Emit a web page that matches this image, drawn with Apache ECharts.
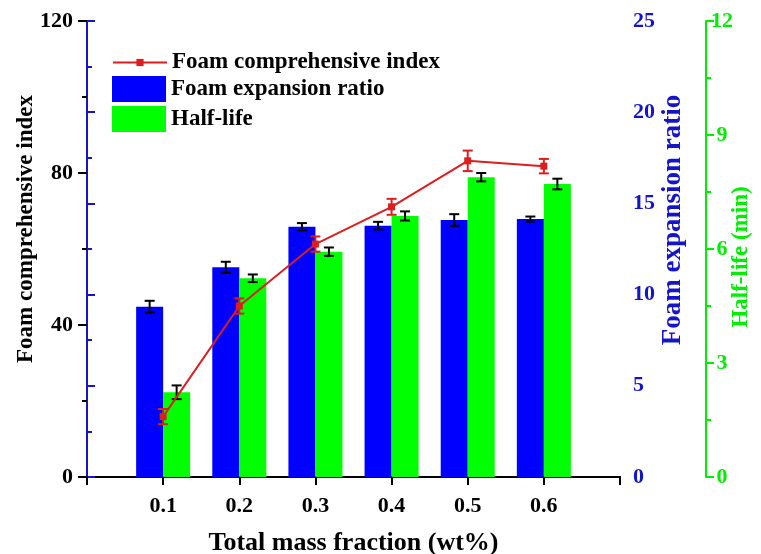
<!DOCTYPE html>
<html>
<head>
<meta charset="utf-8">
<script src="https://cdn.jsdelivr.net/npm/echarts@6/dist/echarts.min.js"></script>
<style>
  html, body { margin: 0; padding: 0; background: #fff; }
  #chart { width: 761px; height: 554px; }
</style>
</head>
<body>
<div id="chart"></div>
<script>
// Foam performance versus total mass fraction
const massFraction = [0.1, 0.2, 0.3, 0.4, 0.5, 0.6];
const comprehensiveIndex = [15.9, 45.0, 61.3, 71.1, 83.2, 81.8];
const comprehensiveErr = [2.0, 2.0, 2.0, 2.1, 2.7, 1.9];
const expansionRatio = [9.34, 11.5, 13.72, 13.78, 14.09, 14.14];
const expansionErr = [0.32, 0.3, 0.2, 0.21, 0.32, 0.14];
const halfLife = [2.23, 5.23, 5.93, 6.87, 7.89, 7.71];
const halfLifeErr = [0.18, 0.1, 0.11, 0.12, 0.11, 0.14];

const FONT = '"Liberation Serif", "Times New Roman", serif';
const RED = '#DD1E1E';
const BLUE = '#0000FF';
const GREEN = '#00FF00';
const AXIS_BLUE = '#1414C8';
const AXIS_GREEN = '#00EE00';
const BAR_W = 27;

const pairs = (vals) => massFraction.map((x, i) => [x, vals[i]]);
const ranges = (vals, errs) => massFraction.map((x, i) => [x, vals[i] - errs[i], vals[i] + errs[i]]);

// Vertical error bar with end caps, shifted sideways by xOff pixels
function errorBar(xOff, color) {
  return function (params, api) {
    const x = api.value(0);
    const top = api.coord([x, api.value(2)]);
    const bot = api.coord([x, api.value(1)]);
    const cx = top[0] + xOff;
    const hw = 5;
    const st = { stroke: color, lineWidth: 2 };
    return {
      type: 'group',
      children: [
        { type: 'line', shape: { x1: cx, y1: top[1], x2: cx, y2: bot[1] }, style: st },
        { type: 'line', shape: { x1: cx - hw, y1: top[1], x2: cx + hw, y2: top[1] }, style: st },
        { type: 'line', shape: { x1: cx - hw, y1: bot[1], x2: cx + hw, y2: bot[1] }, style: st }
      ]
    };
  };
}

const labelStyle = (color) => ({ fontFamily: FONT, fontWeight: 'bold', fontSize: 22, color: color });
const nameStyle = (color, size) => ({ fontFamily: FONT, fontWeight: 'bold', fontSize: size, color: color });
const legendText = { fontFamily: FONT, fontWeight: 'bold', fontSize: 23, color: '#000' };

const chart = echarts.init(document.getElementById('chart'), null, { renderer: 'canvas' });
chart.setOption({
  animation: false,
  backgroundColor: '#fff',
  grid: { left: 87, right: 141, top: 21, bottom: 77, containLabel: false, outerBoundsMode: 'none' },
  legend: [{
    left: 107, top: 46, orient: 'vertical',
    itemWidth: 54, itemHeight: 9,
    data: ['Foam comprehensive index'],
    textStyle: legendText
  }, {
    left: 107, top: 71, orient: 'vertical',
    itemWidth: 54, itemHeight: 26, itemGap: 4, icon: 'rect',
    data: ['Foam expansion ratio', 'Half-life'],
    textStyle: legendText
  }],
  xAxis: [{
    type: 'value', min: 0, max: 0.7, interval: 0.1,
    name: 'Total mass fraction (wt%)', nameLocation: 'middle', nameGap: 53,
    nameTextStyle: nameStyle('#000', 26), nameMoveOverlap: false,
    axisLine: { lineStyle: { color: '#000', width: 2 } },
    axisTick: { show: true, length: 8, lineStyle: { color: '#000', width: 2 } },
    axisLabel: Object.assign(labelStyle('#000'), {
      margin: 18,
      formatter: (v) => (v > 0.05 && v < 0.65) ? v.toFixed(1) : ''
    }),
    splitLine: { show: false }
  }, {
    type: 'value', min: 0, max: 0.7, position: 'top',
    axisLine: { show: true, lineStyle: { color: '#000', width: 2 } },
    axisTick: { show: false }, axisLabel: { show: false }, splitLine: { show: false }
  }],
  yAxis: [{
    type: 'value', min: 0, max: 120, interval: 40, position: 'left',
    name: 'Foam comprehensive index', nameLocation: 'middle', nameGap: 49, nameMoveOverlap: false,
    nameTextStyle: Object.assign(nameStyle('#000', 23), { padding: [0, 0, 0, 40] }),
    axisLine: { show: true, lineStyle: { color: '#000', width: 2 } },
    axisTick: { show: true, length: 9, lineStyle: { color: '#000', width: 2 } },
    minorTick: { show: true, splitNumber: 2, length: 5, lineStyle: { color: '#000', width: 2 } },
    axisLabel: Object.assign(labelStyle('#000'), { margin: 14 }),
    splitLine: { show: false }
  }, {
    type: 'value', min: 0, max: 25, interval: 5, position: 'right', offset: 0,
    name: 'Foam expansion ratio', nameLocation: 'middle', nameGap: 40, nameMoveOverlap: false,
    nameTextStyle: Object.assign(nameStyle(AXIS_BLUE, 27), { padding: [0, 0, 0, 58] }),
    axisLine: { show: true, lineStyle: { color: AXIS_BLUE, width: 2 } },
    axisTick: { show: true, length: 8, lineStyle: { color: AXIS_BLUE, width: 2 } },
    minorTick: { show: true, splitNumber: 2, length: 5, lineStyle: { color: AXIS_BLUE, width: 2 } },
    axisLabel: Object.assign(labelStyle(AXIS_BLUE), { margin: 13 }),
    splitLine: { show: false }
  }, {
    type: 'value', min: 0, max: 12, interval: 3, position: 'right', offset: 86,
    name: 'Half-life (min)', nameLocation: 'middle', nameGap: 24, nameMoveOverlap: false,
    nameTextStyle: Object.assign(nameStyle(AXIS_GREEN, 23), { padding: [0, 16, 0, 0] }),
    axisLine: { show: true, lineStyle: { color: AXIS_GREEN, width: 2 } },
    axisTick: { show: true, length: 8, lineStyle: { color: AXIS_GREEN, width: 2 } },
    minorTick: { show: true, splitNumber: 2, length: 5, lineStyle: { color: AXIS_GREEN, width: 2 } },
    axisLabel: Object.assign(labelStyle(AXIS_GREEN), { margin: 16, align: 'center' }),
    splitLine: { show: false }
  }],
  series: [{
    name: 'Foam expansion ratio', type: 'bar', xAxisIndex: 0, yAxisIndex: 1,
    data: pairs(expansionRatio), barWidth: BAR_W, barGap: '0%',
    itemStyle: { color: BLUE }, z: 2
  }, {
    name: 'Half-life', type: 'bar', xAxisIndex: 0, yAxisIndex: 2,
    data: pairs(halfLife), barWidth: BAR_W, barGap: '0%',
    itemStyle: { color: GREEN }, z: 2
  }, {
    name: 'expansion-err', type: 'custom', xAxisIndex: 0, yAxisIndex: 1,
    data: ranges(expansionRatio, expansionErr), encode: { x: 0, y: [1, 2] },
    renderItem: errorBar(-BAR_W / 2, '#000'), z: 3
  }, {
    name: 'halflife-err', type: 'custom', xAxisIndex: 0, yAxisIndex: 2,
    data: ranges(halfLife, halfLifeErr), encode: { x: 0, y: [1, 2] },
    renderItem: errorBar(BAR_W / 2, '#000'), z: 3
  }, {
    name: 'Foam comprehensive index', type: 'line', xAxisIndex: 0, yAxisIndex: 0,
    data: pairs(comprehensiveIndex),
    symbol: 'rect', symbolSize: 7,
    lineStyle: { color: RED, width: 2 }, itemStyle: { color: RED }, z: 5
  }, {
    name: 'index-err', type: 'custom', xAxisIndex: 0, yAxisIndex: 0,
    data: ranges(comprehensiveIndex, comprehensiveErr), encode: { x: 0, y: [1, 2] },
    renderItem: errorBar(0, RED), z: 6
  }]
});
</script>
</body>
</html>
